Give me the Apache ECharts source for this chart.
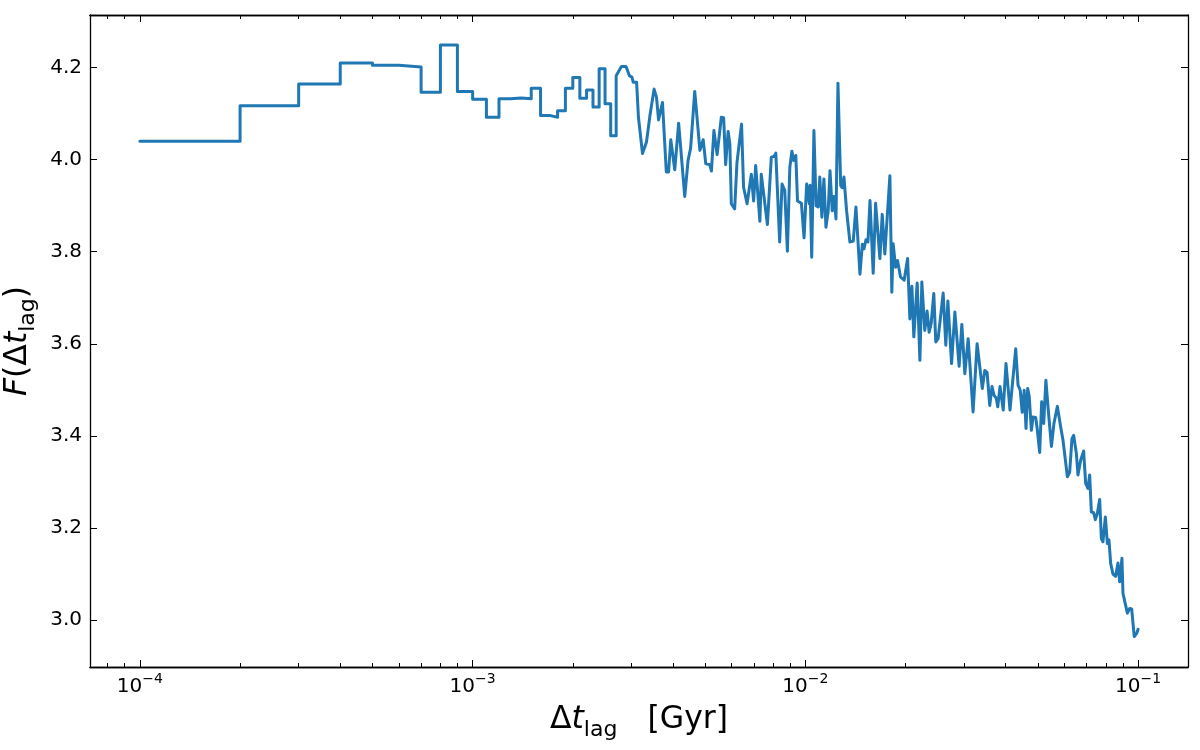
<!DOCTYPE html>
<html><head><meta charset="utf-8">
<script src="https://cdn.jsdelivr.net/npm/echarts@6/dist/echarts.min.js"></script>
<style>html,body{margin:0;padding:0;background:#fff}#c{width:1200px;height:750px}</style>
</head><body><div id="c"></div>
<script>
// Step-like part (lag in Gyr, F values)
const stepLag = [1e-4, 2e-4, 2e-4, 3e-4, 3e-4, 4e-4, 4e-4, 5e-4, 5e-4, 6e-4, 6e-4, 7e-4, 7e-4, 8e-4, 8e-4, 9e-4, 9e-4, 1e-3, 1e-3, 1.1e-3, 1.1e-3, 1.2e-3, 1.2e-3, 1.3e-3, 1.3e-3, 1.4e-3, 1.4e-3, 1.5e-3, 1.5e-3, 1.6e-3, 1.6e-3, 1.7e-3, 1.7e-3, 1.8e-3, 1.8e-3, 1.9e-3, 1.9e-3, 2.0e-3, 2.0e-3, 2.1e-3, 2.1e-3, 2.2e-3, 2.2e-3, 2.3e-3, 2.3e-3, 2.4e-3, 2.4e-3, 2.5e-3, 2.5e-3, 2.6e-3, 2.6e-3, 2.7e-3, 2.7e-3];
const stepF = [4.040, 4.040, 4.117, 4.117, 4.164, 4.164, 4.210, 4.210, 4.205, 4.205, 4.201, 4.201, 4.146, 4.146, 4.249, 4.249, 4.148, 4.148, 4.131, 4.131, 4.092, 4.092, 4.132, 4.132, 4.134, 4.134, 4.132, 4.132, 4.155, 4.155, 4.096, 4.096, 4.092, 4.092, 4.106, 4.106, 4.155, 4.155, 4.178, 4.178, 4.133, 4.133, 4.151, 4.151, 4.114, 4.114, 4.197, 4.197, 4.121, 4.121, 4.052, 4.052, 4.182];

// Noisy part
const lag = [2.80e-3, 2.89e-3, 2.96e-3, 3.01e-3, 3.04e-3, 3.11e-3, 3.15e-3, 3.18e-3, 3.24e-3, 3.33e-3,
  3.41e-3, 3.51e-3, 3.57e-3, 3.62e-3, 3.72e-3, 3.75e-3, 3.82e-3, 3.88e-3, 3.94e-3, 4.05e-3,
  4.16e-3, 4.34e-3, 4.44e-3, 4.52e-3, 4.65e-3, 4.82e-3, 4.93e-3, 5.02e-3, 5.16e-3, 5.22e-3,
  5.31e-3, 5.43e-3, 5.59e-3, 5.68e-3, 5.76e-3, 5.86e-3, 5.93e-3, 5.99e-3, 6.13e-3, 6.23e-3,
  6.43e-3, 6.52e-3, 6.68e-3, 6.88e-3, 6.99e-3, 7.09e-3, 7.30e-3, 7.37e-3, 7.69e-3, 7.90e-3,
  8.05e-3, 8.15e-3, 8.37e-3, 8.51e-3, 8.67e-3, 8.83e-3, 8.98e-3, 9.11e-3, 9.22e-3, 9.36e-3,
  9.47e-3, 9.73e-3, 9.91e-3, 1.009e-2, 1.028e-2, 1.033e-2, 1.045e-2, 1.061e-2, 1.077e-2, 1.093e-2,
  1.105e-2, 1.121e-2, 1.137e-2, 1.153e-2, 1.171e-2, 1.186e-2, 1.204e-2, 1.219e-2, 1.236e-2, 1.253e-2,
  1.277e-2, 1.290e-2, 1.306e-2, 1.330e-2, 1.361e-2, 1.393e-2, 1.419e-2, 1.459e-2, 1.483e-2, 1.500e-2,
  1.521e-2, 1.542e-2, 1.564e-2, 1.599e-2, 1.626e-2, 1.675e-2, 1.702e-2, 1.733e-2, 1.754e-2, 1.795e-2,
  1.819e-2, 1.836e-2, 1.867e-2, 1.892e-2, 1.932e-2, 1.981e-2, 2.029e-2, 2.061e-2, 2.090e-2, 2.118e-2,
  2.168e-2, 2.209e-2, 2.239e-2, 2.285e-2, 2.322e-2, 2.355e-2, 2.388e-2, 2.432e-2, 2.466e-2, 2.506e-2,
  2.536e-2, 2.595e-2, 2.643e-2, 2.681e-2, 2.750e-2, 2.814e-2, 2.898e-2, 2.953e-2, 3.015e-2, 3.085e-2,
  3.121e-2, 3.192e-2, 3.282e-2, 3.402e-2, 3.461e-2, 3.517e-2, 3.582e-2, 3.638e-2, 3.691e-2, 3.747e-2,
  3.786e-2, 3.846e-2, 3.932e-2, 4.009e-2, 4.121e-2, 4.171e-2, 4.287e-2, 4.357e-2, 4.424e-2, 4.484e-2,
  4.547e-2, 4.604e-2, 4.658e-2, 4.707e-2, 4.779e-2, 4.832e-2, 4.922e-2, 4.974e-2, 5.061e-2, 5.131e-2,
  5.204e-2, 5.283e-2, 5.361e-2, 5.489e-2, 5.586e-2, 5.720e-2, 5.852e-2, 5.946e-2, 6.131e-2, 6.228e-2,
  6.328e-2, 6.403e-2, 6.523e-2, 6.596e-2, 6.720e-2, 6.790e-2, 6.860e-2, 6.957e-2, 7.068e-2, 7.152e-2,
  7.236e-2, 7.353e-2, 7.439e-2, 7.544e-2, 7.665e-2, 7.755e-2, 7.841e-2, 7.973e-2, 8.084e-2, 8.173e-2,
  8.271e-2, 8.403e-2, 8.561e-2, 8.699e-2, 8.802e-2, 8.943e-2, 9.006e-2, 9.285e-2, 9.434e-2, 9.566e-2,
  9.737e-2, 9.90e-2, 1.0e-1];
const F = [4.202, 4.202, 4.182, 4.179, 4.168, 4.168, 4.092, 4.088, 4.013, 4.038,
  4.095, 4.153, 4.135, 4.086, 4.124, 4.121, 3.973, 3.973, 4.043, 3.978,
  4.079, 3.920, 3.998, 4.025, 4.148, 4.020, 4.043, 3.991, 3.989, 3.975,
  4.063, 4.011, 4.092, 4.091, 3.989, 4.061, 4.034, 3.904, 3.893, 3.994,
  4.077, 3.940, 3.904, 3.968, 3.910, 3.987, 3.866, 3.968, 3.859, 4.005,
  4.007, 4.014, 3.821, 3.947, 3.933, 3.801, 3.983, 4.018, 3.998, 4.009,
  3.910, 3.905, 3.830, 3.947, 3.904, 3.944, 3.788, 4.063, 3.900, 3.897,
  3.962, 3.875, 3.958, 3.853, 3.889, 3.976, 3.889, 3.920, 3.871, 4.166,
  3.944, 3.939, 3.962, 3.889, 3.821, 3.823, 3.897, 3.751, 3.816, 3.806,
  3.826, 3.821, 3.911, 3.753, 3.905, 3.785, 3.881, 3.795, 3.795, 3.965,
  3.712, 3.817, 3.766, 3.781, 3.745, 3.738, 3.785, 3.654, 3.725, 3.615,
  3.732, 3.564, 3.734, 3.629, 3.671, 3.625, 3.644, 3.709, 3.604, 3.611,
  3.607, 3.710, 3.597, 3.693, 3.557, 3.669, 3.551, 3.642, 3.535, 3.611,
  3.607, 3.452, 3.600, 3.503, 3.542, 3.538, 3.466, 3.507, 3.488, 3.482,
  3.463, 3.507, 3.456, 3.557, 3.456, 3.459, 3.589, 3.510, 3.499, 3.451,
  3.499, 3.416, 3.503, 3.486, 3.412, 3.441, 3.440, 3.416, 3.364, 3.474,
  3.427, 3.521, 3.463, 3.377, 3.427, 3.464, 3.419, 3.391, 3.311, 3.321,
  3.394, 3.401, 3.362, 3.315, 3.347, 3.343, 3.367, 3.297, 3.286, 3.315,
  3.235, 3.233, 3.218, 3.232, 3.262, 3.177, 3.170, 3.224, 3.166, 3.174,
  3.123, 3.100, 3.095, 3.124, 3.083, 3.134, 3.058, 3.015, 3.025, 3.024,
  2.964, 2.971, 2.980];

const xMajorTicks = [1e-4, 1e-3, 1e-2, 1e-1];
const xTickExponents = ['−4', '−3', '−2', '−1'];
const xMinorTicks = [8e-5, 9e-5,
  2e-4, 3e-4, 4e-4, 5e-4, 6e-4, 7e-4, 8e-4, 9e-4,
  2e-3, 3e-3, 4e-3, 5e-3, 6e-3, 7e-3, 8e-3, 9e-3,
  2e-2, 3e-2, 4e-2, 5e-2, 6e-2, 7e-2, 8e-2, 9e-2];
const yTicks = [3.0, 3.2, 3.4, 3.6, 3.8, 4.0, 4.2];
const xRange = [7.079e-5, 0.14125];
const yRange = [2.898, 4.314];

const FONT = 'DejaVu Sans';
const TICK_FS = 20;
const TITLE_FS = 31.5;
const points = [];
stepLag.forEach((x, i) => points.push([x, stepF[i]]));
lag.forEach((x, i) => points.push([x, F[i]]));

const titleRich = {
  d: { fontFamily: FONT, fontSize: TITLE_FS, color: '#000', lineHeight: 42 },
  i: { fontFamily: FONT, fontSize: TITLE_FS, fontStyle: 'italic', color: '#000', lineHeight: 42 },
  s: { fontFamily: FONT, fontSize: 22, color: '#000', lineHeight: 21, verticalAlign: 'bottom' }
};

function xAx(pos, ticks, len, withLabels, withName) {
  const ax = {
    type: 'log', logBase: 10, position: pos, gridIndex: 0,
    min: xRange[0], max: xRange[1],
    axisLine: { show: true, onZero: false, lineStyle: { color: '#000', width: 1.3 } },
    axisTick: { show: true, inside: true, length: len, customValues: ticks, lineStyle: { color: '#000', width: 1 } },
    axisLabel: { show: false },
    splitLine: { show: false }, minorTick: { show: false }, minorSplitLine: { show: false }
  };
  if (withLabels) {
    ax.axisLabel = {
      show: true, customValues: xMajorTicks, margin: 5,
      formatter: v => {
        const i = xMajorTicks.findIndex(t => Math.abs(Math.log10(t) - Math.log10(v)) < 1e-6);
        return '{b|10}{p|' + xTickExponents[i] + '}';
      },
      rich: {
        b: { fontFamily: FONT, fontSize: TICK_FS, color: '#000', lineHeight: 25, verticalAlign: 'bottom' },
        p: { fontFamily: FONT, fontSize: 14, color: '#000', lineHeight: 12, verticalAlign: 'top' }
      }
    };
  }
  if (withName) {
    ax.name = '{d|Δ}{i|t}{s|lag}{d|   [Gyr]}';
    ax.nameLocation = 'middle';
    ax.nameGap = 32;
    ax.nameTextStyle = { fontFamily: FONT, fontSize: TITLE_FS, color: '#000', rich: titleRich };
  }
  return ax;
}

function yAx(pos, withLabels) {
  const ax = {
    type: 'value', position: pos, gridIndex: 0,
    min: yRange[0], max: yRange[1],
    axisLine: { show: true, onZero: false, lineStyle: { color: '#000', width: 1.3 } },
    axisTick: { show: true, inside: true, length: 7, customValues: yTicks, lineStyle: { color: '#000', width: 1 } },
    axisLabel: { show: false },
    splitLine: { show: false }
  };
  if (withLabels) {
    ax.axisLabel = {
      show: true, customValues: yTicks, margin: 8,
      fontFamily: FONT, fontSize: TICK_FS, color: '#000',
      formatter: v => Number(v).toFixed(1)
    };
    ax.name = '{i|F}{d|(Δ}{i|t}{s|lag}{d|)}';
    ax.nameLocation = 'middle';
    ax.nameGap = 50;
    ax.nameRotate = 90;
    ax.nameTextStyle = { fontFamily: FONT, fontSize: TITLE_FS, color: '#000', rich: titleRich };
  }
  return ax;
}

const chart = echarts.init(document.getElementById('c'), null, { renderer: 'canvas' });
chart.setOption({
  animation: false,
  backgroundColor: '#fff',
  grid: { left: 90, right: 12, top: 15, bottom: 83, containLabel: false, outerBoundsMode: 'none' },
  xAxis: [
    xAx('bottom', xMajorTicks, 7, true, true),
    xAx('bottom', xMinorTicks, 4, false, false),
    xAx('top', xMajorTicks, 7, false, false),
    xAx('top', xMinorTicks, 4, false, false)
  ],
  yAxis: [yAx('left', true), yAx('right', false)],
  series: [{
    type: 'line', xAxisIndex: 0, yAxisIndex: 0,
    data: points, showSymbol: false, symbol: 'none',
    lineStyle: { color: '#1f77b4', width: 3, join: 'round', cap: 'round' },
    z: 1
  }]
});
</script></body></html>
